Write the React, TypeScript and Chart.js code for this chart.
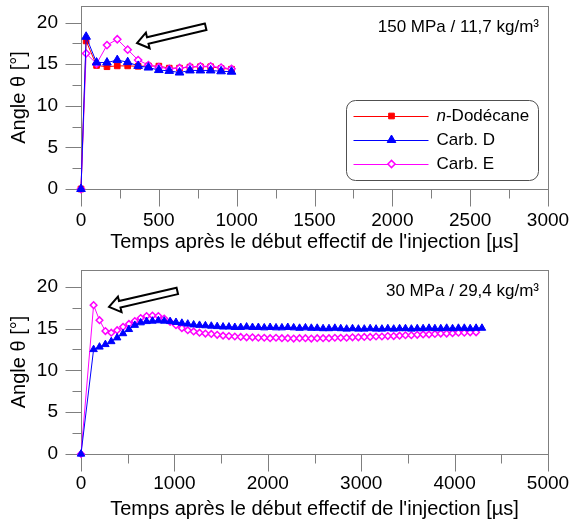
import React, { useEffect, useRef } from "react";
import { Chart, registerables } from "chart.js";

Chart.register(...registerables);

const FONT_FAMILY = '"Liberation Sans", Arial, Helvetica, sans-serif';
const AXIS_COLOR = "#7f7f7f";
const TEXT_COLOR = "#000000";

// ---------- Panel 1 : 150 MPa / 11,7 kg/m3 ----------
const time150 = [0, 33, 100, 167, 233, 300, 367, 433, 500, 567, 633, 700, 767, 833, 900, 967];
const dodecane150 = [0, 17.8, 14.85, 14.7, 14.8, 14.8, 14.75, 14.8, 14.77, 14.53, 14.53, 14.65, 14.7, 14.7, 14.5, 14.4];
const carbD150 = [0, 18.3, 15.2, 15.2, 15.5, 15.25, 14.8, 14.6, 14.3, 14.2, 14.0, 14.25, 14.25, 14.25, 14.15, 14.1];
const carbE150 = [0, 16.3, 15.05, 17.3, 18.0, 16.75, 15.5, 14.9, 14.65, 14.45, 14.55, 14.7, 14.75, 14.75, 14.6, 14.45];

// ---------- Panel 2 : 30 MPa / 29,4 kg/m3 ----------
const time30 = [
  0, 135, 198, 261, 324, 387, 450, 513, 576, 639, 702, 765, 828, 891, 954, 1017, 1080, 1143, 1206, 1269,
  1332, 1395, 1458, 1521, 1584, 1647, 1710, 1773, 1836, 1899, 1962, 2025, 2088, 2151, 2214, 2277, 2340,
  2403, 2466, 2529, 2592, 2655, 2718, 2781, 2844, 2907, 2970, 3033, 3096, 3159, 3222, 3285, 3348, 3411,
  3474, 3537, 3600, 3663, 3726, 3789, 3852, 3915, 3978, 4041, 4104, 4167, 4230, 4293,
];
const carbD30 = [
  0, 12.5, 12.8, 13.1, 13.45, 13.9, 14.4, 14.9, 15.4, 15.7, 15.85, 15.9, 15.95, 15.9, 15.85, 15.75, 15.65,
  15.55, 15.45, 15.4, 15.35, 15.3, 15.25, 15.2, 15.2, 15.15, 15.15, 15.2, 15.15, 15.15, 15.1, 15.15, 15.1,
  15.1, 15.15, 15.1, 15.05, 15.1, 15.05, 15.05, 15.0, 15.0, 15.05, 15.0, 14.95, 15.0, 14.95, 14.95, 15.0,
  14.95, 14.95, 15.0, 14.95, 15.0, 15.0, 14.95, 15.0, 15.0, 15.05, 15.0, 15.0, 15.05, 15.0, 15.05, 15.05,
  15.0, 15.05, 15.05,
];
const carbE30 = [
  0, 17.8, 16.0, 14.7, 14.5, 14.8, 15.2, 15.55, 15.9, 16.25, 16.5, 16.55, 16.5, 16.2, 15.8, 15.4, 15.05,
  14.8, 14.65, 14.5, 14.4, 14.35, 14.25, 14.15, 14.1, 14.05, 14.0, 13.95, 13.95, 13.9, 13.9, 13.85, 13.9,
  13.85, 13.85, 13.8, 13.85, 13.85, 13.8, 13.85, 13.85, 13.85, 13.9, 13.9, 13.9, 13.95, 13.95, 14.0, 14.0,
  14.05, 14.05, 14.1, 14.1, 14.15, 14.2, 14.2, 14.25, 14.3, 14.3, 14.35, 14.4, 14.4, 14.45, 14.5, 14.5,
  14.55, 14.55,
];

// ---------- Axis / labels ----------
const xTitle = "Temps après le début effectif de l'injection [µs]";
const yTitle = "Angle θ [°]";
const yMax = 22;
const yStep = 2.5;
const yMajor = 5;
const xMax150 = 3000;
const xStep150 = 250;
const xMajor150 = 500;
const xMax30 = 5000;
const xStep30 = 500;
const xMajor30 = 1000;
const label150 = "150 MPa / 11,7 kg/m³";
const label30 = "30 MPa / 29,4 kg/m³";
const legendNames = ["n-Dodécane", "Carb. D", "Carb. E"];

// arrows in data coordinates: [x, y]
const arrow150 = { tail: [801, 19.5], tip: [360, 17.55] };
const arrow30 = { tail: [1031, 19.5], tip: [300, 17.6] };

type Series = {
  label: string;
  values: number[];
  color: string;
  fill: string;
  pointStyle: string;
  radius: number;
  pbw: number;
  order: number;
};

type Panel = {
  time: number[];
  series: Series[];
  xMax: number;
  xStep: number;
  xMajor: number;
  padTop: number;
  xAxisHeight: number;
  xTitlePad: number;
  xTickPad: number;
  note: string;
  arrow: { tail: number[]; tip: number[] };
  legend: boolean;
};

const isMult = (v: number, m: number) => Math.abs(v / m - Math.round(v / m)) < 1e-6;

function drawMarker(ctx: CanvasRenderingContext2D, style: string, x: number, y: number, r: number, fill: string, stroke: string, lw: number) {
  ctx.save();
  ctx.beginPath();
  if (style === "rect") {
    const s = r * Math.SQRT1_2;
    ctx.rect(x - s, y - s, 2 * s, 2 * s);
  } else if (style === "triangle") {
    ctx.moveTo(x, y - r);
    ctx.lineTo(x + r * 0.866, y + r * 0.5);
    ctx.lineTo(x - r * 0.866, y + r * 0.5);
    ctx.closePath();
  } else {
    ctx.moveTo(x - r, y);
    ctx.lineTo(x, y - r);
    ctx.lineTo(x + r, y);
    ctx.lineTo(x, y + r);
    ctx.closePath();
  }
  ctx.fillStyle = fill;
  ctx.fill();
  ctx.lineWidth = lw;
  ctx.strokeStyle = stroke;
  ctx.stroke();
  ctx.restore();
}

function drawHollowArrow(ctx: CanvasRenderingContext2D, x1: number, y1: number, x2: number, y2: number) {
  const dx = x2 - x1;
  const dy = y2 - y1;
  const L = Math.hypot(dx, dy);
  const ux = dx / L;
  const uy = dy / L;
  const nx = -uy;
  const ny = ux;
  const sw = 3.3;
  const hw = 8;
  const hl = 11;
  const bx = x2 - ux * hl;
  const by = y2 - uy * hl;
  ctx.save();
  ctx.beginPath();
  ctx.moveTo(x1 + nx * sw, y1 + ny * sw);
  ctx.lineTo(bx + nx * sw, by + ny * sw);
  ctx.lineTo(bx + nx * hw, by + ny * hw);
  ctx.lineTo(x2, y2);
  ctx.lineTo(bx - nx * hw, by - ny * hw);
  ctx.lineTo(bx - nx * sw, by - ny * sw);
  ctx.lineTo(x1 - nx * sw, y1 - ny * sw);
  ctx.closePath();
  ctx.fillStyle = "#ffffff";
  ctx.fill();
  ctx.lineWidth = 2;
  ctx.lineJoin = "miter";
  ctx.strokeStyle = "#000000";
  ctx.stroke();
  ctx.restore();
}

function makeDecor(p: Panel) {
  return {
    id: "decor",
    beforeDatasetsDraw(chart: any) {
      const { ctx, chartArea: ca, scales } = chart;
      ctx.save();
      ctx.strokeStyle = AXIS_COLOR;
      ctx.lineWidth = 1;
      const l = Math.round(ca.left) + 0.5;
      const t = Math.round(ca.top) + 0.5;
      const r = Math.round(ca.right) + 0.5;
      const b = Math.round(ca.bottom) + 0.5;
      ctx.strokeRect(l, t, r - l, b - t);
      const xs = scales.x;
      ctx.beginPath();
      for (const tk of xs.ticks) {
        const px = Math.round(xs.getPixelForValue(tk.value)) + 0.5;
        const len = isMult(tk.value, p.xMajor) ? 17 : 9;
        ctx.moveTo(px, b);
        ctx.lineTo(px, b + len);
      }
      const ys = scales.y;
      for (const tk of ys.ticks) {
        const py = Math.round(ys.getPixelForValue(tk.value)) + 0.5;
        const len = isMult(tk.value, yMajor) ? 16 : 9;
        ctx.moveTo(l, py);
        ctx.lineTo(l - len, py);
      }
      ctx.stroke();
      ctx.restore();
    },
    afterDraw(chart: any) {
      const { ctx, chartArea: ca, scales } = chart;
      const xs = scales.x;
      const ys = scales.y;
      // annotation
      ctx.save();
      ctx.font = `17px ${FONT_FAMILY}`;
      ctx.fillStyle = TEXT_COLOR;
      ctx.textAlign = "right";
      ctx.textBaseline = "middle";
      ctx.fillText(p.note, ca.right - 9, ca.top + 21.5);
      ctx.restore();
      // arrow
      drawHollowArrow(
        ctx,
        xs.getPixelForValue(p.arrow.tail[0]),
        ys.getPixelForValue(p.arrow.tail[1]),
        xs.getPixelForValue(p.arrow.tip[0]),
        ys.getPixelForValue(p.arrow.tip[1])
      );
      // legend
      if (p.legend) {
        const bx = Math.round(ca.right - 202) + 0.5;
        const by = Math.round(ca.top + 94) + 0.5;
        const bw = 192;
        const bh = 80;
        ctx.save();
        ctx.beginPath();
        ctx.roundRect(bx, by, bw, bh, 9);
        ctx.fillStyle = "#ffffff";
        ctx.fill();
        ctx.strokeStyle = "#505050";
        ctx.lineWidth = 1;
        ctx.stroke();
        const order = [0, 1, 2];
        order.forEach((i) => {
          const s = p.series[i];
          const y = by + 15 + i * 24;
          ctx.beginPath();
          ctx.strokeStyle = s.color;
          ctx.lineWidth = 1;
          ctx.moveTo(bx + 7, Math.round(y) + 0.5);
          ctx.lineTo(bx + 82, Math.round(y) + 0.5);
          ctx.stroke();
          drawMarker(ctx, s.pointStyle, bx + 45, y + 0.5, s.radius, s.fill, s.color, s.pbw);
          ctx.fillStyle = TEXT_COLOR;
          ctx.textBaseline = "middle";
          ctx.textAlign = "left";
          const tx = bx + 90;
          if (s.label.startsWith("n-")) {
            ctx.font = `italic 17px ${FONT_FAMILY}`;
            ctx.fillText("n", tx, y + 1);
            const w = ctx.measureText("n").width;
            ctx.font = `17px ${FONT_FAMILY}`;
            ctx.fillText(s.label.slice(1), tx + w, y + 1);
          } else {
            ctx.font = `17px ${FONT_FAMILY}`;
            ctx.fillText(s.label, tx, y + 1);
          }
        });
        ctx.restore();
      }
    },
  };
}

function buildConfig(p: Panel): any {
  const tickFont = { family: FONT_FAMILY, size: 19 };
  const titleFont = { family: FONT_FAMILY, size: 20 };
  return {
    type: "line",
    data: {
      datasets: p.series.map((s) => ({
        label: s.label,
        data: s.values.map((v, i) => ({ x: p.time[i], y: v })),
        borderColor: s.color,
        backgroundColor: s.fill,
        borderWidth: 1,
        pointStyle: s.pointStyle,
        pointRadius: s.radius,
        pointHoverRadius: s.radius,
        pointBackgroundColor: s.fill,
        pointBorderColor: s.color,
        pointBorderWidth: s.pbw,
        tension: 0,
        fill: false,
        clip: false,
        order: s.order,
      })),
    },
    options: {
      responsive: false,
      animation: false,
      devicePixelRatio: 1,
      events: [],
      layout: { padding: { top: p.padTop, right: 23, bottom: 0, left: 0 } },
      plugins: { legend: { display: false }, tooltip: { enabled: false } },
      scales: {
        x: {
          type: "linear",
          min: 0,
          max: p.xMax,
          afterFit: (s: any) => {
            s.height = p.xAxisHeight;
            s.paddingLeft = 0;
            s.paddingRight = 0;
          },
          ticks: {
            stepSize: p.xStep,
            autoSkip: false,
            maxRotation: 0,
            minRotation: 0,
            padding: p.xTickPad,
            color: TEXT_COLOR,
            font: tickFont,
            callback: (v: number) => (isMult(v, p.xMajor) ? String(v) : ""),
          },
          grid: { display: true, drawOnChartArea: false, color: "rgba(0,0,0,0)", tickLength: 17 },
          border: { display: false },
          title: { display: true, text: xTitle, color: TEXT_COLOR, font: titleFont, padding: { top: 0, bottom: p.xTitlePad } },
        },
        y: {
          type: "linear",
          min: 0,
          max: yMax,
          afterFit: (s: any) => {
            s.width = 81;
            s.paddingTop = 0;
            s.paddingBottom = 0;
          },
          ticks: {
            stepSize: yStep,
            includeBounds: false,
            autoSkip: false,
            padding: 7,
            color: TEXT_COLOR,
            font: tickFont,
            callback: (v: number) => (isMult(v, yMajor) ? String(v) : ""),
          },
          grid: { display: true, drawOnChartArea: false, color: "rgba(0,0,0,0)", tickLength: 16 },
          border: { display: false },
          title: { display: true, text: yTitle, color: TEXT_COLOR, font: titleFont, padding: { top: 7, bottom: 0 } },
        },
      },
    },
    plugins: [makeDecor(p)],
  };
}

const panel150: Panel = {
  time: time150,
  series: [
    { label: legendNames[0], values: dodecane150, color: "#FF0000", fill: "#FF0000", pointStyle: "rect", radius: 4, pbw: 1, order: 3 },
    { label: legendNames[1], values: carbD150, color: "#0000FF", fill: "#0000FF", pointStyle: "triangle", radius: 5, pbw: 1, order: 1 },
    { label: legendNames[2], values: carbE150, color: "#FF00FF", fill: "#FFFFFF", pointStyle: "rectRot", radius: 3.6, pbw: 1.5, order: 2 },
  ],
  xMax: xMax150,
  xStep: xStep150,
  xMajor: xMajor150,
  padTop: 5,
  xAxisHeight: 73,
  xTitlePad: 8,
  xTickPad: 3,
  note: label150,
  arrow: arrow150,
  legend: true,
};

const panel30: Panel = {
  time: time30,
  series: [
    { label: legendNames[1], values: carbD30, color: "#0000FF", fill: "#0000FF", pointStyle: "triangle", radius: 4.3, pbw: 1, order: 1 },
    { label: legendNames[2], values: carbE30, color: "#FF00FF", fill: "#FFFFFF", pointStyle: "rectRot", radius: 3.3, pbw: 1.5, order: 2 },
  ],
  xMax: xMax30,
  xStep: xStep30,
  xMajor: xMajor30,
  padTop: 8,
  xAxisHeight: 70,
  xTitlePad: 3,
  xTickPad: 1,
  note: label30,
  arrow: arrow30,
  legend: false,
};

function PlotPanel({ panel }: { panel: Panel }) {
  const ref = useRef<HTMLCanvasElement>(null);
  useEffect(() => {
    const chart = new Chart(ref.current as HTMLCanvasElement, buildConfig(panel));
    return () => chart.destroy();
  }, [panel]);
  return <canvas ref={ref} width={571} height={262} style={{ display: "block", width: 571, height: 262 }} />;
}

export default function App() {
  return (
    <div style={{ position: "absolute", left: 0, top: 0, width: 571, height: 524, background: "#ffffff" }}>
      <PlotPanel panel={panel150} />
      <PlotPanel panel={panel30} />
    </div>
  );
}
